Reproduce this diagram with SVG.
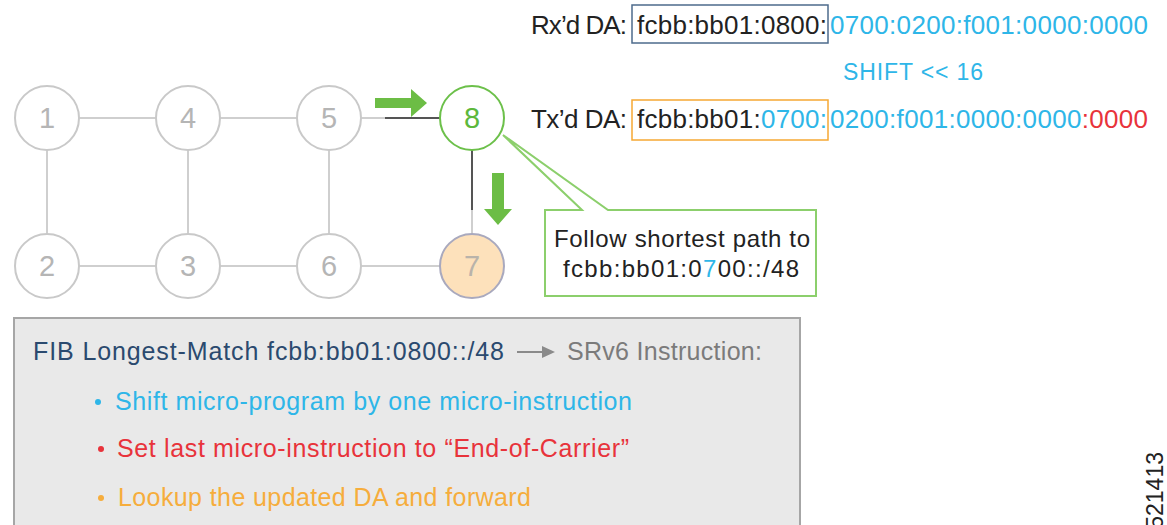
<svg xmlns="http://www.w3.org/2000/svg" width="1167" height="525" viewBox="0 0 1167 525">
<style>
text{font-family:"Liberation Sans",Arial,sans-serif}
.node circle{fill:#fff;stroke:#c9c9c9;stroke-width:2}
.node text{font-size:29px;fill:#b5b5b5;text-anchor:middle}
.edge{stroke:#cfcfcf;stroke-width:2;fill:none}
.dark{stroke:#555;stroke-width:2;fill:none}
.blk{fill:#222}
.cy{fill:#2eb6e8}
.rd{fill:#e8333b}
.hdr{font-size:26px}
.box{font-size:25px}
.bul{font-size:25px}
.green{fill:#6cbd45}
</style>
<rect width="1167" height="525" fill="#fff"/>
<g id="connectors">
<line class="edge" x1="79" y1="118" x2="156" y2="118"/>
<line class="edge" x1="220" y1="118" x2="297" y2="118"/>
<line class="edge" x1="361" y1="118" x2="386" y2="118"/>
<line class="dark" x1="385" y1="118" x2="440" y2="118"/>
<line class="edge" x1="79" y1="266" x2="156" y2="266"/>
<line class="edge" x1="220" y1="266" x2="297" y2="266"/>
<line class="edge" x1="361" y1="266" x2="440" y2="266"/>
<line class="edge" x1="47" y1="150" x2="47" y2="234"/>
<line class="edge" x1="188" y1="150" x2="188" y2="234"/>
<line class="edge" x1="329" y1="150" x2="329" y2="234"/>
<line class="dark" x1="472" y1="150" x2="472" y2="211"/>
<line class="edge" x1="472" y1="210" x2="472" y2="234"/>
</g>
<g id="n1" class="node"><circle cx="47" cy="118" r="32"/><text x="47" y="128">1</text></g>
<g id="n4" class="node"><circle cx="188" cy="118" r="32"/><text x="188" y="128">4</text></g>
<g id="n5" class="node"><circle cx="329" cy="118" r="32"/><text x="329" y="128">5</text></g>
<g id="n8" class="node"><circle cx="472" cy="118" r="32" style="stroke:#6cc04a"/><text x="472" y="128" style="fill:#5db83c">8</text></g>
<g id="n2" class="node"><circle cx="47" cy="266" r="32"/><text x="47" y="276">2</text></g>
<g id="n3" class="node"><circle cx="188" cy="266" r="32"/><text x="188" y="276">3</text></g>
<g id="n6" class="node"><circle cx="329" cy="266" r="32"/><text x="329" y="276">6</text></g>
<g id="n7" class="node"><circle cx="472" cy="266" r="32" style="fill:#fde1bb;stroke:#a9a9be"/><text x="472" y="276" style="fill:#b9b3aa">7</text></g>
<g id="arrows">
<polygon class="green" points="375,98 411,98 411,89 427,103 411,117 411,108 375,108"/>
<polygon class="green" points="492,173 504,173 504,209 512,209 498,225 484,209 492,209"/>
</g>
<g id="callout">
<path d="M582 210 L503 135 L608 210 L816 210 L816 296 L545 296 L545 210 Z" fill="#fff" stroke="#8ccf6c" stroke-width="2"/>
<text class="blk" x="682" y="247" font-size="24" text-anchor="middle" textLength="256" lengthAdjust="spacing">Follow shortest path to</text>
<text class="blk" x="681" y="277" font-size="24" text-anchor="middle" textLength="236" lengthAdjust="spacing">fcbb:bb01:0<tspan class="cy">7</tspan>00::/48</text>
</g>
<g id="rx">
<rect x="632" y="5" width="196" height="38" fill="none" stroke="#4d6b8c" stroke-width="1.5"/>
<text class="hdr blk" x="531" y="34" textLength="96" lengthAdjust="spacing">Rx’d DA:</text>
<text class="hdr blk" x="637" y="34" textLength="190" lengthAdjust="spacing">fcbb:bb01:0800:</text>
<text class="hdr cy" x="830" y="34" textLength="318" lengthAdjust="spacing">0700:0200:f001:0000:0000</text>
</g>
<g id="shift">
<text class="cy" x="843" y="80" font-size="23" textLength="140" lengthAdjust="spacing">SHIFT &lt;&lt; 16</text>
</g>
<g id="tx">
<rect x="632" y="100" width="196" height="40" fill="none" stroke="#f6a833" stroke-width="1.5"/>
<text class="hdr blk" x="531" y="128" textLength="96" lengthAdjust="spacing">Tx’d DA:</text>
<text class="hdr blk" x="637" y="128" textLength="190" lengthAdjust="spacing">fcbb:bb01:<tspan class="cy">0700:</tspan></text>
<text class="hdr cy" x="830" y="128" textLength="318" lengthAdjust="spacing">0200:f001:0000:0000<tspan class="rd">:0000</tspan></text>
</g>
<g id="fib">
<rect x="14" y="318" width="786" height="230" fill="#e9e9e9" stroke="#a6a6a6" stroke-width="2"/>
<text class="box" x="33" y="360" fill="#2b4a6f" textLength="471" lengthAdjust="spacing">FIB Longest-Match fcbb:bb01:0800::/48</text>
<line x1="517" y1="352" x2="545" y2="352" stroke="#8a8a8a" stroke-width="2"/>
<polygon points="542,346 555,352 542,358" fill="#8a8a8a"/>
<text class="box" x="567" y="360" fill="#7b7b7b" textLength="195" lengthAdjust="spacing">SRv6 Instruction:</text>
<circle cx="98" cy="402" r="3" fill="#2eb6e8"/>
<text class="bul cy" x="115" y="410" textLength="517" lengthAdjust="spacing">Shift micro-program by one micro-instruction</text>
<circle cx="101" cy="449" r="3" fill="#e8333b"/>
<text class="bul rd" x="117" y="457" textLength="512" lengthAdjust="spacing">Set last micro-instruction to “End-of-Carrier”</text>
<circle cx="101" cy="498" r="3" fill="#f6ad3c"/>
<text class="bul" x="118" y="506" fill="#f6ad3c" textLength="413" lengthAdjust="spacing">Lookup the updated DA and forward</text>
</g>
<text x="0" y="0" font-size="23" fill="#222" text-anchor="end" transform="translate(1163,452) rotate(-90)">521413</text>
</svg>
